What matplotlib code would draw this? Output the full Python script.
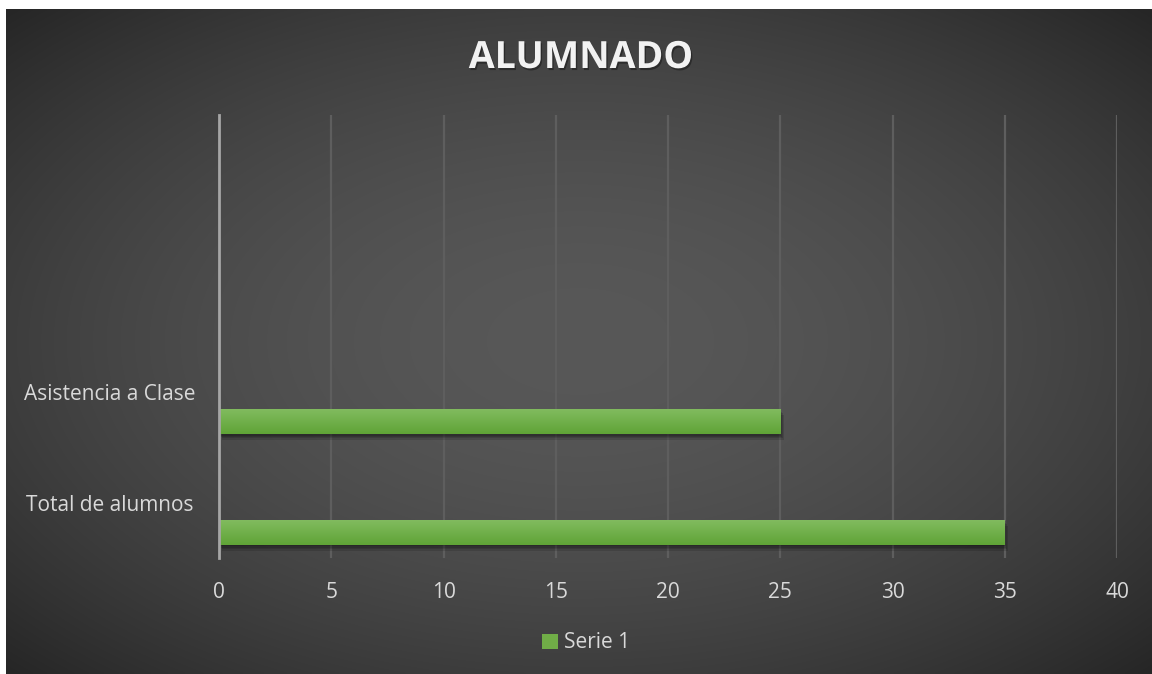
import numpy as np
import matplotlib
matplotlib.use("Agg")
import matplotlib.pyplot as plt
import matplotlib.patheffects as pe
from matplotlib.patches import Patch

# =================================
# DATA
# =================================

title = "ALUMNADO"
categories = ["Total de alumnos", "Asistencia a Clase", "", ""]
serie_name = "Serie 1"
serie_values = [35, 25]
x_ticks = [0, 5, 10, 15, 20, 25, 30, 35, 40]

plt.rcParams["font.family"] = ["Open Sans", "DejaVu Sans"]

W, H = 1152, 674
fig = plt.figure(figsize=(W / 100, H / 100), dpi=100, facecolor="white")

# =================================
# BACKGROUND (radial gradient)
# =================================

bg = fig.add_axes([6 / W, 0, 1 - 6 / W, 1 - 9 / H], zorder=-5)
gx, gy = np.meshgrid(np.linspace(-1, 1, 400), np.linspace(-1, 1, 240))
r = np.clip(np.sqrt(gx ** 2 + gy ** 2) / np.sqrt(2), 0, 1) ** 1.8
shade = (88 - r * 50) / 255.0
bg.imshow(np.dstack([shade, shade, shade]), aspect="auto", extent=[0, 1, 0, 1],
          interpolation="bilinear")
bg.set_axis_off()

# =================================
# BAR CHART
# =================================

ax = fig.add_axes([219 / W, 1 - 558 / H, (1117 - 219) / W, (558 - 115) / H])
ax.set_facecolor("none")

slots = np.arange(len(categories))
bar_h = 0.226
bar_shift = -0.27

# soft shadow: a few faint offset copies
shadow = [pe.SimplePatchShadow(offset=(0.6 * k, -1.0 * k), shadow_rgbFace="black", alpha=0.13)
          for k in (1, 2, 3, 4)] + [pe.Normal()]
bars = ax.barh(slots[:len(serie_values)] + bar_shift, serie_values, height=bar_h,
               color="#70ad47", zorder=3, path_effects=shadow)

grad = np.linspace(0, 1, 50).reshape(-1, 1)
green = matplotlib.colors.LinearSegmentedColormap.from_list("g", ["#82bc60", "#60a437"])
for b in bars:
    im = ax.imshow(grad, cmap=green, aspect="auto", zorder=4,
                   extent=[b.get_x(), b.get_x() + b.get_width(),
                           b.get_y(), b.get_y() + b.get_height()])
    im.set_clip_path(b)

ax.set_xlim(0, 40)
ax.set_ylim(-0.5, len(categories) - 0.5)
ax.set_xticks(x_ticks)
ax.set_yticks(slots)
ax.set_yticklabels(categories)

for x in x_ticks[1:]:
    ax.axvline(x, color="#5e5e5e", lw=1.6, zorder=1)

for s in ["top", "right", "bottom"]:
    ax.spines[s].set_visible(False)
ax.spines["left"].set_color("#a6a6a6")
ax.spines["left"].set_linewidth(2)
ax.spines["left"].set_zorder(5)

ax.tick_params(axis="x", length=0, pad=17, labelsize=15, labelcolor="#d9d9d9")
ax.tick_params(axis="y", length=0, pad=79, labelsize=15, labelcolor="#d9d9d9")
for lab in ax.get_yticklabels():
    lab.set_ha("center")

# =================================
# TITLE AND LEGEND
# =================================

fig.text(581 / W, 1 - 58 / H, title, ha="center", va="center", fontsize=27,
         fontweight="bold", color="#f2f2f2",
         path_effects=[pe.SimplePatchShadow(offset=(1.0, -1.5), shadow_rgbFace="black", alpha=0.35),
                       pe.Normal()])

handle = Patch(facecolor="#70ad47", edgecolor="none")
fig.legend([handle], [serie_name], loc="center", bbox_to_anchor=(586 / W, 1 - 643 / H),
           frameon=False, handlelength=0.75, handleheight=0.75, handletextpad=0.3,
           fontsize=15, labelcolor="#d9d9d9")

fig.savefig("out.png", dpi=100, facecolor="white")
